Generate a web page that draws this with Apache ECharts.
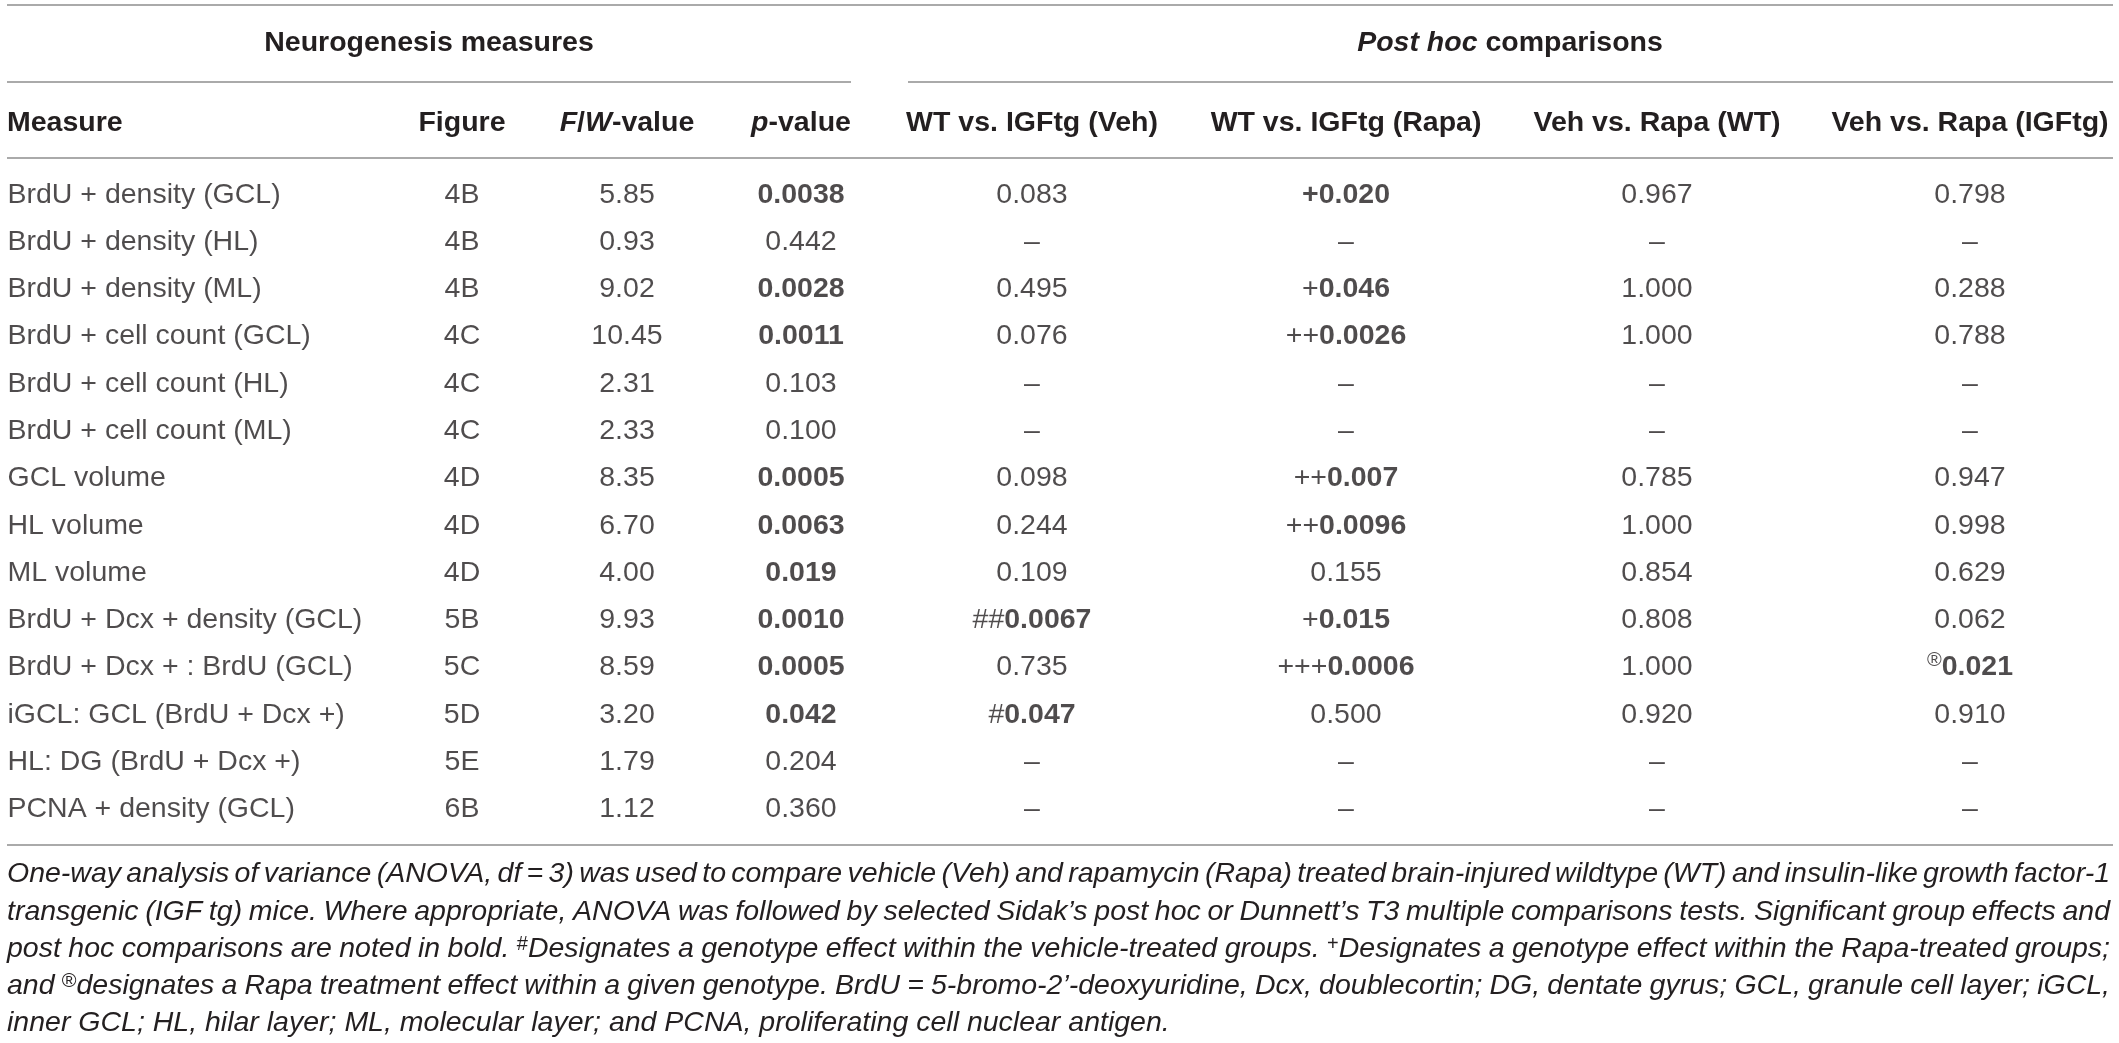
<!DOCTYPE html>
<html>
<head>
<meta charset="utf-8">
<title>Neurogenesis measures</title>
<script src="https://cdn.jsdelivr.net/npm/echarts@6/dist/echarts.min.js"></script>
<style>
    html, body { margin: 0; padding: 0; background: #fff; }
    #main { width: 2119px; height: 1043px; }
</style>
</head>
<body>
<div id="main"></div>
<script>
// rows of the table
var measures = ['BrdU + density (GCL)', 'BrdU + density (HL)', 'BrdU + density (ML)', 'BrdU + cell count (GCL)',
    'BrdU + cell count (HL)', 'BrdU + cell count (ML)', 'GCL volume', 'HL volume', 'ML volume',
    'BrdU + Dcx + density (GCL)', 'BrdU + Dcx + : BrdU (GCL)', 'iGCL: GCL (BrdU + Dcx +)',
    'HL: DG (BrdU + Dcx +)', 'PCNA + density (GCL)'];
var figures = ['4B', '4B', '4B', '4C', '4C', '4C', '4D', '4D', '4D', '5B', '5C', '5D', '5E', '6B'];
var fwValues = ['5.85', '0.93', '9.02', '10.45', '2.31', '2.33', '8.35', '6.70', '4.00', '9.93', '8.59', '3.20', '1.79', '1.12'];
var pValues = ['0.0038', '0.442', '0.0028', '0.0011', '0.103', '0.100', '0.0005', '0.0063', '0.019', '0.0010', '0.0005', '0.042', '0.204', '0.360'];
var wtIgfVeh = ['0.083', '–', '0.495', '0.076', '–', '–', '0.098', '0.244', '0.109', '##0.0067', '0.735', '#0.047', '–', '–'];
var wtIgfRapa = ['+0.020', '–', '+0.046', '++0.0026', '–', '–', '++0.007', '++0.0096', '0.155', '+0.015', '+++0.0006', '0.500', '–', '–'];
var vehRapaWt = ['0.967', '–', '1.000', '1.000', '–', '–', '0.785', '1.000', '0.854', '0.808', '1.000', '0.920', '–', '–'];
var vehRapaIgf = ['0.798', '–', '0.288', '0.788', '–', '–', '0.947', '0.998', '0.629', '0.062', '®0.021', '0.910', '–', '–'];

// bold: 0 = plain, 1 = number bold, 2 = whole cell bold
var pBold = [1, 0, 1, 1, 0, 0, 1, 1, 1, 1, 1, 1, 0, 0];
var vehBold = [0, 0, 0, 0, 0, 0, 0, 0, 0, 1, 0, 1, 0, 0];
var rapaBold = [2, 0, 1, 1, 0, 0, 1, 1, 0, 1, 1, 0, 0, 0];
var igfBold = [0, 0, 0, 0, 0, 0, 0, 0, 0, 0, 1, 0, 0, 0];

var headers = ['Measure', 'Figure', '{i|F}/{i|W}-value', '{i|p}-value', 'WT vs. IGFtg (Veh)',
    'WT vs. IGFtg (Rapa)', 'Veh vs. Rapa (WT)', 'Veh vs. Rapa (IGFtg)'];

var footLines = [
    'One-way analysis of variance (ANOVA, df = 3) was used to compare vehicle (Veh) and rapamycin (Rapa) treated brain-injured wildtype (WT) and insulin-like growth factor-1',
    'transgenic (IGF tg) mice. Where appropriate, ANOVA was followed by selected Sidak’s post hoc or Dunnett’s T3 multiple comparisons tests. Significant group effects and',
    'post hoc comparisons are noted in bold. {s|#}Designates a genotype effect within the vehicle-treated groups. {s|+}Designates a genotype effect within the Rapa-treated groups;',
    'and {s|®}designates a Rapa treatment effect within a given genotype. BrdU = 5-bromo-2’-deoxyuridine, Dcx, doublecortin; DG, dentate gyrus; GCL, granule cell layer; iGCL,',
    'inner GCL; HL, hilar layer; ML, molecular layer; and PCNA, proliferating cell nuclear antigen.'
];

// layout
var W = 2119;
var colX = [7, 462, 627, 801, 1032, 1346, 1657, 1970];
var FONT = '"Liberation Sans", Arial, Helvetica, sans-serif';
var FS = 28.5;
var SUP = 20;
var INK = '#231f20';
var RULE = '#8e8e8e';

var rich = {
    r: { fontFamily: FONT, fontSize: FS, color: INK },
    b: { fontFamily: FONT, fontSize: FS, color: INK, fontWeight: 'bold' },
    s: { fontFamily: FONT, fontSize: SUP, color: INK, verticalAlign: 'top', lineHeight: SUP }
};

function cellText(text, mode) {
    if (!mode) return '{r|' + text + '}';
    if (mode === 2) return '{b|' + text + '}';
    var m = text.match(/^([#+®]*)(.*)$/);
    var pre = '';
    if (m[1]) pre = '{' + (m[1] === '®' ? 's' : 'r') + '|' + m[1] + '}';
    return pre + '{b|' + m[2] + '}';
}

var columns = [
    { values: measures, left: true },
    { values: figures },
    { values: fwValues },
    { values: pValues, bold: pBold },
    { values: wtIgfVeh, bold: vehBold },
    { values: wtIgfRapa, bold: rapaBold },
    { values: vehRapaWt },
    { values: vehRapaIgf, bold: igfBold }
];

var series = columns.map(function(col, c) {
    return {
        type: 'scatter',
        symbolSize: 1,
        silent: true,
        itemStyle: { color: 'rgba(0,0,0,0)' },
        data: col.values.map(function(v, i) { return [colX[c], i]; }),
        label: {
            show: true,
            position: col.left ? 'right' : 'inside',
            distance: 0,
            lineHeight: 34,
            formatter: function(p) {
                return cellText(col.values[p.dataIndex], col.bold ? col.bold[p.dataIndex] : 0);
            },
            rich: rich
        }
    };
});

// justified footnote: spaces become tokens with a computed width
var ctx = document.createElement('canvas').getContext('2d');
function textW(t, font) { ctx.font = font; return ctx.measureText(t).width; }
var italicFont = 'italic ' + FS + 'px ' + FONT;
var supFont = SUP + 'px ' + FONT;
var footRich = {
    s: { fontFamily: FONT, fontSize: SUP, color: INK, fontStyle: 'normal', verticalAlign: 'top', lineHeight: SUP }
};
var footText = footLines.map(function(line, k) {
    if (k === footLines.length - 1) return line;
    var parts = line.split(/(\{s\|[^}]*\})/);
    var total = 0, spaces = 0;
    parts.forEach(function(p) {
        var sm = p.match(/^\{s\|(.*)\}$/);
        if (sm) { total += textW(sm[1], supFont); return; }
        var words = p.split(' ');
        spaces += words.length - 1;
        words.forEach(function(w) { total += textW(w, italicFont); });
    });
    var sw = (2110 - 7 - total) / spaces;
    footRich['sp' + k] = { fontFamily: FONT, fontSize: FS, fontStyle: 'italic', width: sw };
    return parts.map(function(p) {
        if (/^\{s\|/.test(p)) return p;
        return p.split(' ').join('{sp' + k + '| }');
    }).join('');
});

var graphic = [];
function rule(x1, x2, y) {
    graphic.push({ type: 'line', silent: true, shape: { x1: x1, y1: y, x2: x2, y2: y },
        style: { stroke: RULE, lineWidth: 1.6 } });
}
rule(7, 2113, 5);
rule(7, 851, 82);
rule(908, 2113, 82);
rule(7, 2113, 158);
rule(7, 2113, 845);

function label(x, y, text, align) {
    graphic.push({
        type: 'text', silent: true, x: x, y: y,
        style: {
            text: text, x: 0, y: 0, textAlign: align, textVerticalAlign: 'middle',
            fontFamily: FONT, fontSize: FS, fontWeight: 'bold', fill: INK,
            rich: {
                i: { fontFamily: FONT, fontSize: FS, fontWeight: 'bold', fontStyle: 'italic', fill: INK }
            }
        }
    });
}
label(429, 43, 'Neurogenesis measures', 'center');
label(1510, 43, '{i|Post hoc} comparisons', 'center');
headers.forEach(function(h, c) {
    label(colX[c], 123, h, c === 0 ? 'left' : 'center');
});

var footY = [874, 912, 949, 986, 1023];
footText.forEach(function(t, k) {
    graphic.push({
        type: 'text', silent: true, x: 7, y: footY[k],
        style: {
            text: t, x: 0, y: 0, textAlign: 'left', textVerticalAlign: 'middle',
            fontFamily: FONT, fontSize: FS, fontStyle: 'italic', fill: INK, rich: footRich
        }
    });
});

var chart = echarts.init(document.getElementById('main'));
chart.setOption({
    animation: false,
    backgroundColor: '#fff',
    grid: { left: 0, right: 0, top: 171, height: 662 },
    xAxis: { type: 'value', min: 0, max: W, show: false },
    yAxis: { type: 'category', data: measures, inverse: true, show: false },
    series: series,
    graphic: graphic
});
window.addEventListener('resize', function() {
    chart.resize();
});
</script>
</body>
</html>
